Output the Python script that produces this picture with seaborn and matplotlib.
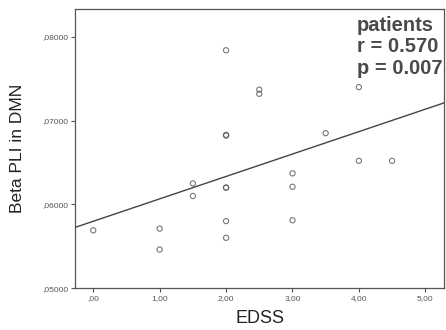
import numpy as np
import pandas as pd
import matplotlib
matplotlib.use("Agg")
import matplotlib.pyplot as plt
import seaborn as sns
from matplotlib.ticker import FuncFormatter

# values
edss = [0.0, 1.0, 1.0, 1.5, 1.5, 2.0, 2.0, 2.0, 2.0, 2.0, 2.0, 2.0,
        2.5, 2.5, 3.0, 3.0, 3.0, 3.5, 4.0, 4.0, 4.5]
beta_pli = [0.0569, 0.0571, 0.0546, 0.0625, 0.0610, 0.0784, 0.0683, 0.0682,
            0.0620, 0.0620, 0.0580, 0.0560, 0.0737, 0.0732, 0.0637, 0.0621,
            0.0581, 0.0685, 0.0740, 0.0652, 0.0652]
stats_text = "patients\nr = 0.570\np = 0.007"

data = pd.DataFrame({"EDSS": edss, "Beta PLI in DMN": beta_pli})

sns.set_style("white")
plt.rcParams["font.family"] = ["Liberation Sans", "DejaVu Sans"]

grey = "#555555"
fig = plt.figure(figsize=(4.46, 3.30), dpi=100)
ax = fig.add_axes([0.168, 0.127, 0.828, 0.845])
ax.set_xlim(-0.276, 5.285)
ax.set_ylim(0.05, 0.0833)

sns.regplot(data=data, x="EDSS", y="Beta PLI in DMN", ax=ax, ci=None,
            truncate=False,
            scatter_kws=dict(s=14, facecolors="none", edgecolors=grey, linewidths=0.8),
            line_kws=dict(color="#444444", linewidth=1.0))

ax.set_xticks([0, 1, 2, 3, 4, 5])
ax.set_yticks([0.05, 0.06, 0.07, 0.08])
ax.xaxis.set_major_formatter(FuncFormatter(lambda v, p: ("%.2f" % v).replace(".", ",").lstrip("0")))
ax.yaxis.set_major_formatter(FuncFormatter(lambda v, p: ("%.5f" % v).replace(".", ",").lstrip("0")))
ax.tick_params(axis="both", direction="out", length=3, width=0.8, color=grey,
               labelsize=6, labelcolor=grey, left=True, bottom=True, pad=2)

for s in ax.spines.values():
    s.set_color(grey)
    s.set_linewidth(0.9)

ax.set_xlabel("EDSS", fontsize=13, color="#222222", labelpad=6)
ax.set_ylabel("Beta PLI in DMN", fontsize=12.5, color="#222222", labelpad=12)

ax.text(0.764, 0.975, stats_text, transform=ax.transAxes, ha="left", va="top",
        fontsize=14.5, fontweight="bold", color="#4a4a4a", linespacing=1.15)

fig.savefig("out.png", dpi=100)
